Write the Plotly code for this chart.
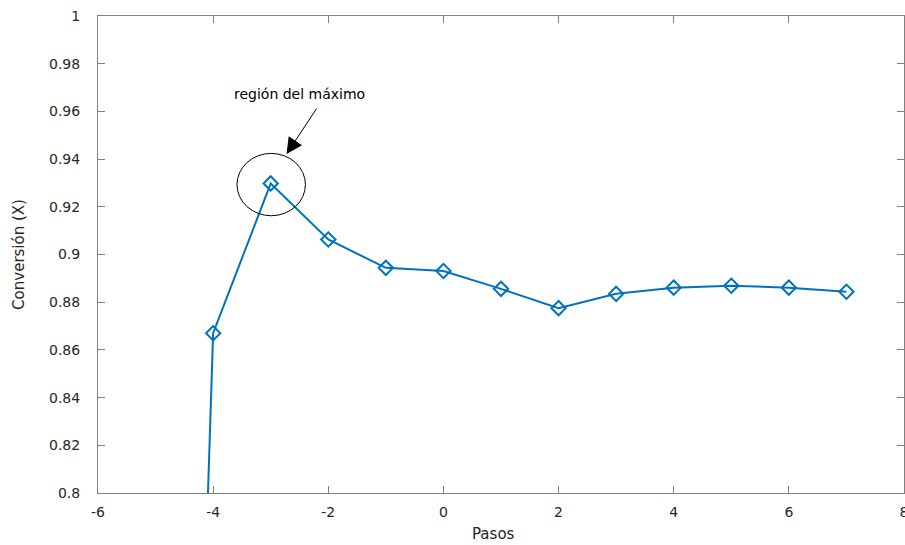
import plotly.graph_objects as go

pasos = [-5, -4, -3, -2, -1, 0, 1, 2, 3, 4, 5, 6, 7]
conversion = [0.12, 0.867, 0.9298, 0.9063, 0.8944, 0.8931, 0.8856, 0.8775, 0.8835, 0.8861, 0.8869, 0.8861, 0.8844]

x_ticks = [-6, -4, -2, 0, 2, 4, 6, 8]
y_ticks = [0.8, 0.82, 0.84, 0.86, 0.88, 0.9, 0.92, 0.94, 0.96, 0.98, 1]
y_tick_text = ["0.8", "0.82", "0.84", "0.86", "0.88", "0.9", "0.92", "0.94", "0.96", "0.98", "1"]

FONT = "DejaVu Sans"
AX = "#808080"
TXT = "#262626"

L, R, T, B = 97.7, 904.5, 15.7, 493.3
W, H = 905, 545

fig = go.Figure()
fig.add_trace(go.Scatter(
    x=pasos, y=conversion, mode="lines+markers",
    line=dict(color="#0072BD", width=2),
    marker=dict(symbol="diamond-open", size=11, color="#0072BD", line=dict(width=2, color="#0072BD")),
    showlegend=False, cliponaxis=True,
))

# ellipse around maximum
fig.add_shape(type="circle", xref="x", yref="y",
              x0=-3.586, x1=-2.397, y0=0.91625, y1=0.94238,
              line=dict(color="black", width=1))

fig.add_annotation(x=-2.725, y=0.9421, xref="x", yref="y", ax=31, ay=-47,
                   showarrow=True, arrowhead=2, arrowsize=3.2, arrowwidth=1,
                   arrowcolor="black", text="")
fig.add_annotation(x=-2.506, y=0.9672, xref="x", yref="y", text="región del máximo",
                   showarrow=False, font=dict(family=FONT, size=14, color="black"))

fig.add_annotation(x=(494 - L) / (R - L), y=-(534 - B) / (B - T),
                   xref="paper", yref="paper", text="Pasos", showarrow=False,
                   xanchor="center", yanchor="middle",
                   font=dict(family=FONT, size=15, color=TXT))
fig.add_annotation(x=-(L - 18) / (R - L), y=0.5, xref="paper", yref="paper",
                   text="Conversión (X)", showarrow=False, textangle=-90,
                   xanchor="center", yanchor="middle",
                   font=dict(family=FONT, size=15, color=TXT))

axis_common = dict(showgrid=False, zeroline=False, showline=True, linecolor=AX, linewidth=1,
                   mirror="ticks", ticks="inside", ticklen=7, tickcolor=AX, tickwidth=1,
                   tickfont=dict(family=FONT, size=14, color=TXT), automargin=False,
                   ticklabeloverflow="allow")

fig.update_xaxes(range=[-6, 8], tickvals=x_ticks, ticktext=[str(v) for v in x_ticks],
                 ticklabelstandoff=6, **axis_common)
fig.update_yaxes(range=[0.8, 1], tickvals=y_ticks, ticktext=y_tick_text,
                 ticklabelstandoff=14, **axis_common)

fig.update_layout(width=W, height=H, autosize=False,
                  margin=dict(l=L, r=W - R, t=T, b=H - B),
                  plot_bgcolor="white", paper_bgcolor="white",
                  font=dict(family=FONT, color=TXT))

fig.write_html("out.html", config={"displayModeBar": False},
               post_script="document.body.style.margin='0';document.body.style.overflow='hidden';")
